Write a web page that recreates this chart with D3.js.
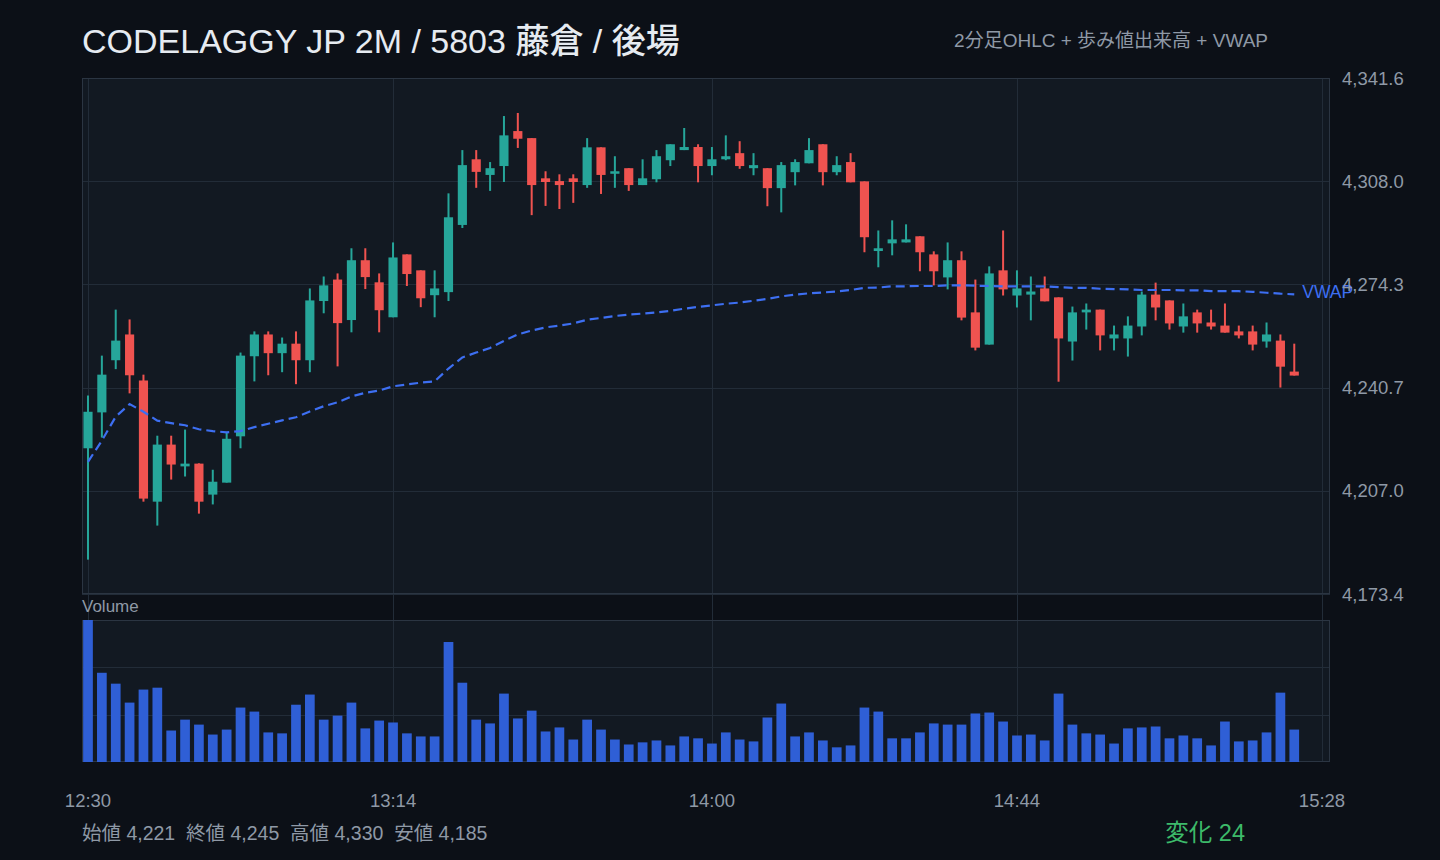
<!DOCTYPE html>
<html lang="ja">
<head>
<meta charset="utf-8">
<title>5803 藤倉 2分足</title>
<script src="https://cdn.jsdelivr.net/npm/d3@7/dist/d3.min.js"></script>
<style>
  html, body { margin: 0; padding: 0; background: #0c1017; }
  svg { display: block; }
  text { font-family: 'Liberation Sans', Arial, 'Noto Sans CJK JP', sans-serif; }
</style>
</head>
<body>
<svg id="chart" width="1440" height="860"></svg>
<script>
'use strict';

// 2分足 (後場) 12:30 - 15:24
const times = [
  '12:30','12:32','12:34','12:36','12:38','12:40','12:42','12:44','12:46','12:48',
  '12:50','12:52','12:54','12:56','12:58','13:00','13:02','13:04','13:06','13:08',
  '13:10','13:12','13:14','13:16','13:18','13:20','13:22','13:24','13:26','13:28',
  '13:30','13:32','13:34','13:36','13:38','13:40','13:42','13:44','13:46','13:48',
  '13:50','13:52','13:54','13:56','13:58','14:00','14:02','14:04','14:06','14:08',
  '14:10','14:12','14:14','14:16','14:18','14:20','14:22','14:24','14:26','14:28',
  '14:30','14:32','14:34','14:36','14:38','14:40','14:42','14:44','14:46','14:48',
  '14:50','14:52','14:54','14:56','14:58','15:00','15:02','15:04','15:06','15:08',
  '15:10','15:12','15:14','15:16','15:18','15:20','15:22','15:24',
];

const opens = [
  4220.9, 4232.6, 4249.6, 4258.0, 4243.0, 4203.5, 4222.1, 4215.0, 4215.9, 4205.8,
  4209.7, 4224.8, 4250.9, 4258.0, 4251.9, 4255.0, 4249.6, 4268.9, 4275.9, 4262.7,
  4282.2, 4275.0, 4263.6, 4284.1, 4278.9, 4270.8, 4271.8, 4293.7, 4315.1, 4310.0,
  4312.9, 4324.3, 4322.0, 4308.9, 4308.0, 4308.9, 4306.7, 4319.0, 4310.5, 4312.2,
  4306.7, 4308.6, 4314.8, 4318.1, 4319.1, 4312.9, 4315.1, 4317.1, 4312.2, 4312.2,
  4305.7, 4310.9, 4313.8, 4320.0, 4310.9, 4314.2, 4307.9, 4285.2, 4287.7, 4288.0,
  4290.0, 4284.1, 4276.6, 4282.2, 4265.2, 4254.7, 4278.9, 4270.7, 4271.0, 4273.0,
  4270.1, 4255.7, 4265.2, 4266.1, 4256.7, 4256.7, 4260.6, 4271.0, 4269.1, 4260.6,
  4265.2, 4261.9, 4260.9, 4259.0, 4259.0, 4255.7, 4256.0, 4245.9,
];

const highs = [
  4238.1, 4251.1, 4266.1, 4262.9, 4244.9, 4225.0, 4225.0, 4227.0, 4216.0, 4213.9,
  4226.1, 4252.1, 4259.0, 4259.0, 4257.0, 4259.0, 4273.0, 4276.9, 4277.9, 4286.1,
  4286.1, 4277.9, 4288.0, 4284.1, 4278.9, 4278.9, 4304.0, 4318.1, 4318.1, 4314.2,
  4329.2, 4330.2, 4322.0, 4311.2, 4310.2, 4310.2, 4322.0, 4319.0, 4316.1, 4312.2,
  4315.1, 4318.1, 4320.0, 4325.3, 4320.0, 4319.1, 4322.9, 4321.0, 4317.1, 4312.2,
  4314.2, 4315.1, 4322.0, 4320.0, 4316.1, 4317.1, 4307.9, 4291.9, 4295.2, 4293.9,
  4290.0, 4285.1, 4288.0, 4285.1, 4275.9, 4280.2, 4291.9, 4278.9, 4276.9, 4276.9,
  4270.1, 4267.1, 4268.1, 4266.1, 4260.9, 4263.9, 4272.0, 4274.9, 4269.1, 4268.1,
  4266.1, 4266.1, 4268.1, 4260.9, 4260.9, 4261.9, 4258.0, 4255.0,
];

const lows = [
  4184.6, 4224.4, 4246.7, 4238.8, 4203.5, 4195.7, 4210.7, 4211.7, 4199.6, 4202.6,
  4209.7, 4220.9, 4242.7, 4244.7, 4245.7, 4241.8, 4245.7, 4264.9, 4247.6, 4258.7,
  4272.8, 4258.7, 4263.6, 4273.8, 4266.9, 4263.6, 4268.9, 4292.7, 4305.8, 4304.8,
  4307.7, 4318.8, 4296.9, 4299.9, 4298.9, 4300.9, 4305.8, 4303.8, 4305.8, 4304.8,
  4306.7, 4307.6, 4312.9, 4318.1, 4307.6, 4309.9, 4314.8, 4312.0, 4309.9, 4299.8,
  4297.8, 4306.6, 4313.8, 4306.6, 4309.9, 4307.6, 4284.8, 4279.9, 4283.8, 4288.0,
  4278.6, 4274.0, 4272.7, 4262.6, 4252.8, 4254.7, 4270.7, 4266.8, 4262.6, 4268.8,
  4242.6, 4249.5, 4259.6, 4252.8, 4252.8, 4250.8, 4257.7, 4262.6, 4259.6, 4258.6,
  4258.6, 4259.6, 4258.6, 4256.7, 4252.8, 4253.7, 4240.7, 4244.6,
];

const closes = [
  4232.8, 4244.9, 4256.0, 4244.7, 4204.5, 4222.1, 4215.6, 4215.9, 4203.5, 4210.0,
  4224.0, 4251.1, 4258.0, 4251.9, 4255.0, 4249.6, 4269.1, 4274.0, 4261.7, 4282.2,
  4276.7, 4265.9, 4283.1, 4277.7, 4269.8, 4273.0, 4296.2, 4313.2, 4311.0, 4312.2,
  4322.9, 4321.8, 4306.7, 4307.7, 4306.7, 4307.7, 4319.0, 4310.0, 4311.2, 4306.7,
  4308.9, 4316.1, 4320.0, 4319.1, 4312.9, 4315.1, 4316.1, 4312.9, 4313.2, 4305.7,
  4313.2, 4314.2, 4318.1, 4310.9, 4313.2, 4307.6, 4289.7, 4286.1, 4289.0, 4289.0,
  4284.8, 4278.6, 4282.2, 4263.5, 4253.7, 4277.9, 4272.7, 4273.0, 4272.0, 4268.8,
  4256.7, 4265.2, 4266.1, 4257.7, 4258.0, 4260.9, 4271.0, 4266.8, 4261.6, 4263.9,
  4261.6, 4260.6, 4258.6, 4257.7, 4254.7, 4258.0, 4247.5, 4244.6,
];

// 出来高 (千株)
const volumes = [
  60.0, 37.7, 33.1, 25.1, 30.6, 31.4, 13.3, 17.9, 15.8, 11.6,
  13.7, 23.0, 21.3, 12.5, 12.1, 24.2, 28.5, 17.9, 19.6, 25.1,
  14.2, 17.5, 16.7, 12.1, 10.8, 10.8, 50.7, 33.5, 17.9, 16.3,
  28.9, 18.4, 21.7, 12.9, 14.6, 9.5, 17.9, 13.7, 9.5, 7.4,
  8.3, 9.1, 7.0, 10.8, 10.0, 7.8, 12.5, 9.5, 8.7, 18.8,
  24.7, 10.8, 12.5, 9.1, 6.2, 7.0, 23.0, 21.3, 10.0, 10.0,
  12.5, 16.3, 15.8, 15.8, 20.5, 20.9, 17.1, 11.2, 11.6, 9.1,
  28.9, 15.8, 12.1, 11.6, 7.8, 14.2, 14.6, 15.0, 10.0, 11.2,
  10.0, 7.0, 17.1, 8.7, 9.1, 12.5, 29.3, 13.7,
];

const vwap = [
  4216.5, 4223.4, 4231.2, 4235.3, 4232.8, 4229.9, 4229.1, 4228.4, 4227.1, 4226.5,
  4226.1, 4226.5, 4227.8, 4228.9, 4230.0, 4231.0, 4232.9, 4234.6, 4235.9, 4237.8,
  4239.0, 4239.7, 4241.1, 4241.7, 4242.3, 4242.7, 4246.9, 4250.5, 4252.1, 4253.6,
  4255.9, 4258.0, 4259.3, 4260.3, 4260.9, 4261.6, 4262.8, 4263.4, 4264.0, 4264.5,
  4264.8, 4265.2, 4265.7, 4266.4, 4267.0, 4267.5, 4268.0, 4268.4, 4269.0, 4269.6,
  4270.4, 4271.0, 4271.4, 4271.7, 4272.0, 4272.5, 4273.2, 4273.3, 4273.7, 4273.7,
  4273.8, 4273.8, 4274.0, 4274.0, 4273.9, 4273.8, 4273.7, 4273.7, 4273.7, 4273.7,
  4273.4, 4273.2, 4273.2, 4272.9, 4272.8, 4272.7, 4272.5, 4272.5, 4272.5, 4272.4,
  4272.4, 4272.1, 4272.1, 4272.1, 4271.9, 4271.6, 4271.3, 4271.1,
];

const priceTicks = [4173.4, 4207.0, 4240.7, 4274.3, 4308.0, 4341.6];
const timeTicks = ['12:30', '13:14', '14:00', '14:44', '15:28'];

const colors = {
  bg: '#0c1017',
  panel: '#121922',
  grid: '#222c38',
  border: '#2b3542',
  muted: '#8f99a6',
  title: '#e6ebf1',
  up: '#26a69a',
  down: '#ef5350',
  volume: '#2f5fd6',
  vwap: '#3d6ff2',
  change: '#3dba6a',
};

const box = { left: 82, right: 1330, priceTop: 78, priceBottom: 594, volTop: 620, volBottom: 762 };

const parseTime = d3.timeParse('%H:%M');
const data = times.map((t, i) => ({
  t: parseTime(t),
  open: opens[i],
  high: highs[i],
  low: lows[i],
  close: closes[i],
  volume: volumes[i],
  vwap: vwap[i],
}));

const x = d3
  .scaleTime()
  .domain([parseTime(timeTicks[0]), parseTime(timeTicks[timeTicks.length - 1])])
  .range([88, 1322]);

const y = d3
  .scaleLinear()
  .domain(d3.extent(priceTicks))
  .range([box.priceBottom, box.priceTop]);

const yVol = d3
  .scaleLinear()
  .domain([0, d3.max(volumes)])
  .range([box.volBottom, box.volTop]);

const step = x(data[1].t) - x(data[0].t);
const bodyW = step * 0.66;
const volW = step * 0.7;

const svg = d3.select('#chart');

svg.append('rect').attr('width', 1440).attr('height', 860).attr('fill', colors.bg);

// panel backgrounds
svg
  .append('rect')
  .attr('x', box.left)
  .attr('y', box.priceTop)
  .attr('width', box.right - box.left)
  .attr('height', box.priceBottom - box.priceTop)
  .attr('fill', colors.panel);
svg
  .append('rect')
  .attr('x', box.left)
  .attr('y', box.volTop)
  .attr('width', box.right - box.left)
  .attr('height', box.volBottom - box.volTop)
  .attr('fill', colors.panel);

// grid
const grid = svg.append('g').attr('stroke', colors.grid).attr('stroke-width', 1);
grid
  .selectAll('.vgrid')
  .data(timeTicks)
  .join('line')
  .attr('x1', (d) => Math.round(x(parseTime(d))) + 0.5)
  .attr('x2', (d) => Math.round(x(parseTime(d))) + 0.5)
  .attr('y1', box.priceTop)
  .attr('y2', box.volBottom);
grid
  .selectAll('.hgrid')
  .data(priceTicks)
  .join('line')
  .attr('x1', box.left)
  .attr('x2', box.right)
  .attr('y1', (d) => Math.round(y(d)) + 0.5)
  .attr('y2', (d) => Math.round(y(d)) + 0.5);
grid
  .selectAll('.vol-grid')
  .data([1 / 3, 2 / 3])
  .join('line')
  .attr('x1', box.left)
  .attr('x2', box.right)
  .attr('y1', (d) => Math.round(yVol(d3.max(volumes) * d)) + 0.5)
  .attr('y2', (d) => Math.round(yVol(d3.max(volumes) * d)) + 0.5);

// borders
[
  [box.priceTop, box.priceBottom],
  [box.volTop, box.volBottom],
].forEach(([t, b]) => {
  svg
    .append('rect')
    .attr('x', box.left + 0.5)
    .attr('y', t + 0.5)
    .attr('width', box.right - box.left - 1)
    .attr('height', b - t - 1)
    .attr('fill', 'none')
    .attr('stroke', colors.border);
});

// candles
const candles = svg
  .append('g')
  .selectAll('g')
  .data(data)
  .join('g')
  .attr('fill', (d) => (d.close >= d.open ? colors.up : colors.down));

candles
  .append('rect')
  .attr('x', (d) => x(d.t) - 1)
  .attr('width', 2)
  .attr('y', (d) => y(d.high))
  .attr('height', (d) => Math.max(1, y(d.low) - y(d.high)));

candles
  .append('rect')
  .attr('x', (d) => x(d.t) - bodyW / 2)
  .attr('width', bodyW)
  .attr('y', (d) => y(Math.max(d.open, d.close)))
  .attr('height', (d) => Math.max(2.5, Math.abs(y(d.open) - y(d.close))));

// vwap
const vwapLine = d3
  .line()
  .x((d) => x(d.t))
  .y((d) => y(d.vwap));

svg
  .append('path')
  .datum(data)
  .attr('d', vwapLine)
  .attr('fill', 'none')
  .attr('stroke', colors.vwap)
  .attr('stroke-width', 2.2)
  .attr('stroke-dasharray', '9,5');

const last = data[data.length - 1];
svg
  .append('text')
  .attr('x', x(last.t) + 8)
  .attr('y', y(last.vwap) + 4)
  .attr('fill', colors.vwap)
  .attr('font-size', 17.5)
  .text('VWAP');

// volume
svg
  .append('g')
  .selectAll('rect')
  .data(data)
  .join('rect')
  .attr('x', (d) => x(d.t) - volW / 2)
  .attr('width', volW)
  .attr('y', (d) => yVol(d.volume))
  .attr('height', (d) => yVol(0) - yVol(d.volume))
  .attr('fill', colors.volume);

// axis labels
svg
  .append('g')
  .selectAll('text')
  .data(priceTicks)
  .join('text')
  .attr('x', 1342)
  .attr('y', (d) => y(d) + 6.5)
  .attr('fill', colors.muted)
  .attr('font-size', 18.5)
  .text(d3.format(',.1f'));

svg
  .append('g')
  .selectAll('text')
  .data(timeTicks)
  .join('text')
  .attr('x', (d) => x(parseTime(d)))
  .attr('y', 807)
  .attr('text-anchor', 'middle')
  .attr('fill', colors.muted)
  .attr('font-size', 18.5)
  .text((d) => d);

svg
  .append('text')
  .attr('x', box.left)
  .attr('y', 612)
  .attr('fill', colors.muted)
  .attr('font-size', 17)
  .text('Volume');

// header
svg
  .append('text')
  .attr('x', box.left)
  .attr('y', 53)
  .attr('fill', colors.title)
  .attr('font-size', 34)
  .attr('font-weight', 500)
  .text('CODELAGGY JP 2M / 5803 藤倉 / 後場');

svg
  .append('text')
  .attr('x', 1268)
  .attr('y', 47)
  .attr('text-anchor', 'end')
  .attr('fill', colors.muted)
  .attr('font-size', 19)
  .text('2分足OHLC + 歩み値出来高 + VWAP');

// summary
const fmt = (v) => d3.format(',')(Math.round(v));
const first = data[0];
const hi = d3.max(highs);
const lo = d3.min(lows);

svg
  .append('text')
  .attr('x', box.left)
  .attr('y', 840)
  .attr('fill', colors.muted)
  .attr('font-size', 19.5)
  .style('white-space', 'pre')
  .text(
    `始値 ${fmt(first.open)}  終値 ${fmt(last.close)}  高値 ${fmt(hi)}  安値 ${fmt(lo)}`
  );

const change = Math.round(last.close) - Math.round(first.open);
svg
  .append('text')
  .attr('x', 1245)
  .attr('y', 841)
  .attr('text-anchor', 'end')
  .attr('fill', change >= 0 ? colors.change : colors.down)
  .attr('font-size', 23.5)
  .text(`変化 ${change}`);
</script>
</body>
</html>
